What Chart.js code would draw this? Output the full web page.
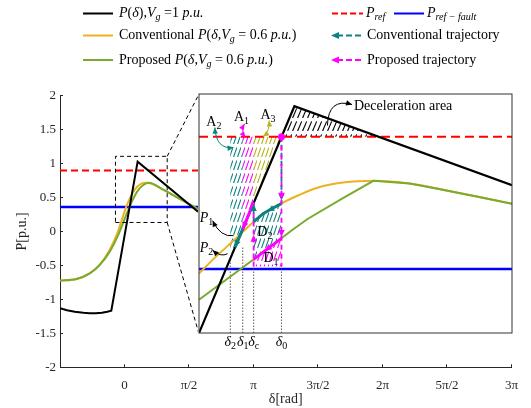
<!DOCTYPE html>
<html><head><meta charset="utf-8">
<title>P-delta curves</title>
<script src="https://cdn.jsdelivr.net/npm/chart.js@4.4.1/dist/chart.umd.min.js"></script>
<style>
html,body{margin:0;padding:0;background:#fff;}
#wrap{position:relative;width:531px;height:408px;overflow:hidden;font-family:"Liberation Serif","Times New Roman",serif;}
#mainC{position:absolute;left:0;top:0;}
#insetC{position:absolute;left:0;top:0;}
#legSvg{position:absolute;left:0;top:0;}
.lg{position:absolute;font-size:14px;line-height:16px;white-space:nowrap;color:#000;}
.lg sub{font-size:10px;vertical-align:-3px;line-height:0;}
</style></head>
<body>
<div id="wrap">
 <canvas id="mainC" width="531" height="408"></canvas>
 <canvas id="insetC" width="10" height="10"></canvas>
 <svg id="legSvg" width="531" height="75" xmlns="http://www.w3.org/2000/svg">
  <line x1="83" y1="13.5" x2="113" y2="13.5" stroke="#000" stroke-width="2"/>
  <line x1="332" y1="13.5" x2="363" y2="13.5" stroke="#f00" stroke-width="2" stroke-dasharray="6,3"/>
  <line x1="394" y1="13.5" x2="424" y2="13.5" stroke="#00f" stroke-width="2"/>
  <line x1="83" y1="35.5" x2="113" y2="35.5" stroke="#EDB120" stroke-width="2"/>
  <line x1="337" y1="35.5" x2="362" y2="35.5" stroke="#0c8282" stroke-width="2" stroke-dasharray="6,3"/>
  <polygon points="331,35.5 339,32 339,39" fill="#0c8282"/>
  <line x1="83" y1="60" x2="113" y2="60" stroke="#77AC30" stroke-width="2"/>
  <line x1="337" y1="60" x2="362" y2="60" stroke="#f0f" stroke-width="2" stroke-dasharray="6,3"/>
  <polygon points="331,60 339,56.5 339,63.5" fill="#f0f"/>
 </svg>
 <div class="lg" style="left:119px;top:5px"><i>P</i>(<i>δ</i>),<i>V</i><sub><i>g</i></sub> =1 <i>p.u.</i></div>
 <div class="lg" style="left:366px;top:5px"><i>P</i><sub><i>ref</i></sub></div>
 <div class="lg" style="left:427px;top:5px"><i>P</i><sub><i>ref − fault</i></sub></div>
 <div class="lg" style="left:119px;top:27px">Conventional <i>P</i>(<i>δ</i>,<i>V</i><sub><i>g</i></sub> = 0.6 <i>p.u.</i>)</div>
 <div class="lg" style="left:367px;top:27px">Conventional trajectory</div>
 <div class="lg" style="left:119px;top:52px">Proposed <i>P</i>(<i>δ</i>,<i>V</i><sub><i>g</i></sub> = 0.6 <i>p.u.</i>)</div>
 <div class="lg" style="left:367px;top:52px">Proposed trajectory</div>
</div>
<script>
// ================= DATA =================
const xTickValues = [-Math.PI/2, 0, Math.PI/2, Math.PI, 3*Math.PI/2, 2*Math.PI, 5*Math.PI/2, 3*Math.PI];
const xTickLabels = ['', '0', 'π/2', 'π', '3π/2', '2π', '5π/2', '3π'];
const yTickValues = [-2, -1.5, -1, -0.5, 0, 0.5, 1, 1.5, 2];
const yTickLabels = ['-2', '-1.5', '-1', '-0.5', '0', '0.5', '1', '1.5', '2'];

// main plot curves (delta in rad, P in p.u.)
const mainBlackX = [-1.571, -1.4, -1.21, -1.0, -0.855, -0.7, -0.55, -0.42, -0.321, 0.32, 1.79];
const mainBlackY = [-1.131, -1.16, -1.183, -1.198, -1.205, -1.203, -1.195, -1.182, -1.166, 1.028, 0.29];
const mainConvX = [-1.571, -1.17, -0.846, -0.604, -0.363, -0.16, 0.04, 0.24, 0.40, 0.556, 0.886, 1.29, 1.79];
const mainConvY = [-0.725, -0.70, -0.616, -0.493, -0.272, 0.0, 0.36, 0.61, 0.70, 0.719, 0.636, 0.50, 0.33];
const mainPropX = [-1.571, -1.17, -0.846, -0.604, -0.363, -0.16, 0.12, 0.30, 0.45, 0.60, 0.886, 1.29, 1.79];
const mainPropY = [-0.725, -0.70, -0.616, -0.493, -0.30, -0.06, 0.36, 0.58, 0.68, 0.719, 0.636, 0.50, 0.33];
const mainRefX = [-Math.PI/2, 1.79];
const pRef = 0.9;
const pRefFault = 0.36;
const zoomBoxX = [-0.22, 1.04];
const zoomBoxY = [0.133, 1.107];
const insetAtX = [1.81, 3*Math.PI];
const insetAtY = [-1.5, 2.02];

// inset (magnified) curves
const insetRangeX = [-0.22, 1.04];
const insetRangeY = [0.098, 1.075];
const insetBlackX = [-0.22, 0.164, 1.04];
const insetBlackY = [0.098, 1.025, 0.702];
const insetConvX = [-0.22, -0.160, -0.081, -0.021, 0.038, 0.110, 0.178, 0.257, 0.360, 0.484, 0.628, 0.761, 0.893, 1.04];
const insetConvY = [0.341, 0.402, 0.476, 0.533, 0.586, 0.627, 0.660, 0.692, 0.713, 0.720, 0.709, 0.684, 0.657, 0.626];
const insetPropX = [-0.22, -0.021, 0.158, 0.217, 0.356, 0.482, 0.628, 0.761, 0.893, 1.04];
const insetPropY = [0.234, 0.383, 0.521, 0.564, 0.647, 0.720, 0.709, 0.684, 0.657, 0.626];
const insetRefX = [-0.22, 1.04];
const deltaKeys = ['2', '1', 'c', '0'];
const deltaX = [-0.094, -0.044, 0.0, 0.112];
const deltaDotTop = [0.40, 0.45, 0.37, 0.37];

// hatched areas
const areaA2X = [-0.094, -0.044, -0.044, -0.094], areaA2Y = [0.9, 0.9, 0.523, 0.402];
const areaA1X = [-0.044, 0, 0, -0.044],           areaA1Y = [0.9, 0.9, 0.632, 0.523];
const areaA3X = [0, 0.112, 0],                    areaA3Y = [0.9, 0.9, 0.632];
const areaD2X = [0, 0.038, 0.08, 0.112, 0.112, 0], areaD2Y = [0.552, 0.586, 0.61, 0.627, 0.485, 0.399];
const areaD1X = [0, 0.112, 0.112, 0],             areaD1Y = [0.399, 0.485, 0.37, 0.37];
const areaDecX = [0.112, 0.164, 0.503],           areaDecY = [0.9, 1.025, 0.9];

// trajectories
const convDropX = [0.112, 0.112],  convDropY = [0.9, 0.627];
const convSlideX = [0.112, 0.08, 0.038, 0], convSlideY = [0.627, 0.61, 0.586, 0.552];
const convJumpX = [0, 0],          convJumpY = [0.552, 0.632];
const convSwingX = [-0.03, -0.075], convSwingY = [0.557, 0.448];
const propDropX = [0.112, 0.112],  propDropY = [0.9, 0.37];
const propSlideX = [0.112, 0],     propSlideY = [0.485, 0.399];
const propJumpX = [0, 0],          propJumpY = [0.37, 0.632];
const propSwingX = [0, -0.044],    propSwingY = [0.632, 0.523];
const convArrows = [[0.112, 0.70, 0.112, 0.64], [0.085, 0.612, 0.055, 0.596], [0, 0.57, 0, 0.625], [-0.055, 0.50, -0.075, 0.448]];
const propArrows = [[0.112, 0.70, 0.112, 0.643], [0.112, 0.55, 0.112, 0.49], [0.07, 0.453, 0.045, 0.434], [0, 0.43, 0, 0.50], [-0.02, 0.584, -0.044, 0.523]];
const operatingPoint = [0.112, 0.9];

// annotation labels (inset units)
const areaLabels = [['A', '2', -0.160, 0.964], ['A', '1', -0.049, 0.984], ['A', '3', 0.058, 0.991], ['D', '2', 0.045, 0.514], ['D', '1', 0.070, 0.406]];
const pointLabels = [['P', '1', -0.190, 0.57], ['P', '2', -0.190, 0.447]];
const decelText = ['Deceleration area', 0.404, 1.024];

// ================= STYLE =================
const GREEN = '#77AC30', ORANGE = '#EDB120', TEAL = '#0c8282', MAGENTA = '#ff00ff', OLIVE = '#b5b51c', AXIS = '#262626';
const pointers = [
  [-0.156, 0.938, -0.152, 0.848, -0.081, 0.856, TEAL, true],
  [-0.037, 0.953, -0.053, 0.924, -0.033, 0.897, MAGENTA, true],
  [0.062, 0.967, 0.066, 0.922, 0.038, 0.901, OLIVE, true],
  [0.297, 0.946, 0.30, 1.06, 0.396, 1.032, '#000', false],
  [-0.081, 0.496, -0.133, 0.488, -0.165, 0.557, '#000', false],
  [-0.105, 0.422, -0.133, 0.407, -0.165, 0.436, '#000', false]
];

Chart.defaults.font.family = "'Liberation Serif','Times New Roman',serif";
Chart.defaults.color = AXIS;

const pts = (xs, ys) => xs.map((x, i) => ({x: x, y: ys[i]}));
const hl = (xs, y) => xs.map(x => ({x: x, y: y}));

function hatch(color, w, h) {
  const c = document.createElement('canvas'); c.width = w; c.height = h;
  const g = c.getContext('2d'); g.strokeStyle = color; g.lineWidth = 1.1;
  g.beginPath(); g.moveTo(0.6, h); g.lineTo(0.6 + w * 0.74, h * 0.26); g.stroke();
  return g.createPattern(c, 'repeat');
}

// ================= MAIN CHART =================
const lineDs = (data, color, width, extra) => Object.assign({data: data, borderColor: color, borderWidth: width, pointRadius: 0, fill: false}, extra || {});

const mainChart = new Chart(document.getElementById('mainC'), {
  type: 'line',
  data: {datasets: [
    lineDs([{x: zoomBoxX[0], y: zoomBoxY[0]}, {x: zoomBoxX[1], y: zoomBoxY[0]}, {x: zoomBoxX[1], y: zoomBoxY[1]}, {x: zoomBoxX[0], y: zoomBoxY[1]}, {x: zoomBoxX[0], y: zoomBoxY[0]}], '#000', 1, {borderDash: [4, 3], order: 0}),
    lineDs([{x: zoomBoxX[1], y: zoomBoxY[1]}, {x: insetAtX[0], y: insetAtY[1]}], '#000', 1, {borderDash: [4, 3], clip: false, order: 0}),
    lineDs([{x: zoomBoxX[1], y: zoomBoxY[0]}, {x: insetAtX[0], y: insetAtY[0]}], '#000', 1, {borderDash: [4, 3], clip: false, order: 0}),
    lineDs(pts(mainBlackX, mainBlackY), '#000', 2, {order: 1}),
    lineDs(pts(mainPropX, mainPropY), GREEN, 2, {order: 2, cubicInterpolationMode: 'monotone'}),
    lineDs(pts(mainConvX, mainConvY), ORANGE, 2, {order: 3, cubicInterpolationMode: 'monotone'}),
    lineDs(hl(mainRefX, pRef), '#ff0000', 2, {borderDash: [7, 4], order: 4}),
    lineDs(hl(mainRefX, pRefFault), '#0000ff', 2.5, {order: 5})
  ]},
  options: {
    responsive: false, animation: false, events: [],
    layout: {padding: {top: 95.7, right: 13, left: 0, bottom: 0}},
    elements: {point: {radius: 0}, line: {tension: 0}},
    plugins: {legend: {display: false}, tooltip: {enabled: false}},
    scales: {
      x: {type: 'linear', min: -Math.PI/2, max: 3*Math.PI,
        afterBuildTicks: s => { s.ticks = xTickValues.map(v => ({value: v})); },
        ticks: {autoSkip: false, maxRotation: 0, padding: 13, font: {size: 13}, color: AXIS, callback: (v, i) => xTickLabels[i]},
        grid: {drawOnChartArea: false, drawTicks: true, tickLength: -3, color: AXIS, lineWidth: 1},
        border: {display: true, color: AXIS, width: 1},
        title: {display: true, text: 'δ[rad]', font: {size: 14}, color: AXIS, padding: {top: 0, bottom: 0}},
        afterFit: s => { s.height = 408 - 367.3; }
      },
      y: {type: 'linear', min: -2, max: 2,
        afterBuildTicks: s => { s.ticks = yTickValues.map(v => ({value: v})); },
        ticks: {padding: 7, font: {size: 13}, color: AXIS, callback: (v, i) => yTickLabels[i]},
        grid: {drawOnChartArea: false, drawTicks: true, tickLength: -3, color: AXIS, lineWidth: 1},
        border: {display: true, color: AXIS, width: 1},
        title: {display: true, text: 'P[p.u.]', font: {size: 14}, color: AXIS, padding: {top: 14, bottom: 14}},
        afterFit: s => { s.width = 60; }
      }
    }
  }
});

// ================= INSET CHART =================
const mx = mainChart.scales.x, my = mainChart.scales.y;
const L = mx.getPixelForValue(insetAtX[0]), R = mx.getPixelForValue(insetAtX[1]);
const T = my.getPixelForValue(insetAtY[1]), B = my.getPixelForValue(insetAtY[0]);
const PAD = 2, EXTRA = 24;
const ic = document.getElementById('insetC');
ic.width = Math.round(R - L + 2 * PAD);
ic.height = Math.round(B - T + PAD + EXTRA);
ic.style.left = (L - PAD) + 'px';
ic.style.top = (T - PAD) + 'px';

function subText(ctx, main, sub, cx, cy, size, italMain, color) {
  const f1 = (italMain ? 'italic ' : '') + size + "px 'Liberation Serif'";
  const f2 = Math.round(size * 0.7) + "px 'Liberation Serif'";
  ctx.font = f1; const w1 = ctx.measureText(main).width;
  ctx.font = f2; const w2 = ctx.measureText(sub).width;
  const x0 = cx - (w1 + w2) / 2, base = cy + size * 0.33;
  ctx.fillStyle = color || '#000'; ctx.textAlign = 'left'; ctx.textBaseline = 'alphabetic';
  ctx.font = f1; ctx.fillText(main, x0, base);
  ctx.font = f2; ctx.fillText(sub, x0 + w1, base + size * 0.22);
}
function head(ctx, x0, y0, x1, y1, color, size) {
  const a = Math.atan2(y1 - y0, x1 - x0), s = size || 7;
  ctx.save(); ctx.fillStyle = color; ctx.beginPath();
  ctx.moveTo(x1, y1);
  ctx.lineTo(x1 - s * Math.cos(a) + s * 0.45 * Math.sin(a), y1 - s * Math.sin(a) - s * 0.45 * Math.cos(a));
  ctx.lineTo(x1 - s * Math.cos(a) - s * 0.45 * Math.sin(a), y1 - s * Math.sin(a) + s * 0.45 * Math.cos(a));
  ctx.closePath(); ctx.fill(); ctx.restore();
}

const insetDeco = {
  id: 'insetDeco',
  beforeDraw(chart) {
    const {ctx, chartArea: a} = chart;
    ctx.save(); ctx.fillStyle = '#fff';
    ctx.fillRect(a.left - 1, a.top - 1, a.right - a.left + 2, a.bottom - a.top + 2);
    ctx.restore();
  },
  afterDatasetsDraw(chart) {
    const {ctx} = chart; const X = v => chart.scales.x.getPixelForValue(v), Y = v => chart.scales.y.getPixelForValue(v);
    convArrows.forEach(a => head(ctx, X(a[0]), Y(a[1]), X(a[2]), Y(a[3]), TEAL, 7));
    propArrows.forEach(a => head(ctx, X(a[0]), Y(a[1]), X(a[2]), Y(a[3]), MAGENTA, 7));
    ctx.save(); ctx.fillStyle = MAGENTA; ctx.beginPath();
    ctx.arc(X(operatingPoint[0]), Y(operatingPoint[1]), 3.5, 0, 2 * Math.PI); ctx.fill(); ctx.restore();
    pointers.forEach(p => {
      const x0 = X(p[0]), y0 = Y(p[1]), cx = X(p[2]), cy = Y(p[3]), x1 = X(p[4]), y1 = Y(p[5]);
      ctx.save(); ctx.strokeStyle = p[6]; ctx.lineWidth = 1; ctx.beginPath();
      ctx.moveTo(x0, y0); ctx.quadraticCurveTo(cx, cy, x1, y1); ctx.stroke(); ctx.restore();
      head(ctx, cx, cy, x1, y1, p[6], 6);
      if (p[7]) head(ctx, cx, cy, x0, y0, p[6], 6);
    });
    areaLabels.forEach(l => subText(ctx, l[0], l[1], X(l[2]), Y(l[3]), 14, false, '#000'));
    pointLabels.forEach(l => subText(ctx, l[0], l[1], X(l[2]), Y(l[3]), 14, true, '#000'));
    ctx.save(); ctx.fillStyle = '#000'; ctx.font = "14px 'Liberation Serif'"; ctx.textAlign = 'left'; ctx.textBaseline = 'middle';
    ctx.fillText(decelText[0], X(decelText[1]), Y(decelText[2])); ctx.restore();
  },
  afterDraw(chart) {
    const {ctx, chartArea: a} = chart; const X = v => chart.scales.x.getPixelForValue(v);
    ctx.save(); ctx.strokeStyle = '#333'; ctx.lineWidth = 1;
    ctx.strokeRect(a.left, a.top, a.right - a.left, a.bottom - a.top); ctx.restore();
    deltaKeys.forEach((k, i) => subText(ctx, 'δ', k, X(deltaX[i]), a.bottom + 8, 14, true, '#000'));
  }
};

const insetDatasets = [
  // hatched areas
  {data: pts(areaA2X, areaA2Y), fill: 'shape', backgroundColor: hatch(TEAL, 4.5, 13), borderWidth: 0, borderColor: 'rgba(0,0,0,0)', order: 30},
  {data: pts(areaA1X, areaA1Y), fill: 'shape', backgroundColor: hatch(MAGENTA, 4.5, 13), borderWidth: 0, borderColor: 'rgba(0,0,0,0)', order: 30},
  {data: pts(areaA3X, areaA3Y), fill: 'shape', backgroundColor: hatch(OLIVE, 4.5, 13), borderWidth: 0, borderColor: 'rgba(0,0,0,0)', order: 30},
  {data: pts(areaD2X, areaD2Y), fill: 'shape', backgroundColor: hatch(TEAL, 4.5, 13), borderWidth: 0, borderColor: 'rgba(0,0,0,0)', order: 30},
  {data: pts(areaD1X, areaD1Y), fill: 'shape', backgroundColor: hatch(MAGENTA, 4.5, 13), borderWidth: 0, borderColor: 'rgba(0,0,0,0)', order: 30},
  {data: pts(areaDecX, areaDecY), fill: 'shape', backgroundColor: hatch('#000', 5.5, 13), borderWidth: 0, borderColor: 'rgba(0,0,0,0)', order: 30},
  // reference lines
  lineDs(hl(insetRefX, pRefFault), '#0000ff', 2.5, {order: 20}),
  lineDs(hl(insetRefX, pRef), '#ff0000', 2, {borderDash: [9, 5], order: 19}),
  // dotted delta markers
  ...deltaX.map((d, i) => lineDs([{x: d, y: insetRangeY[0]}, {x: d, y: deltaDotTop[i]}], '#333', 0.8, {borderDash: [1.5, 1.5], order: 18})),
  // curves
  lineDs(pts(insetConvX, insetConvY), ORANGE, 2, {cubicInterpolationMode: 'monotone', order: 12}),
  lineDs(pts(insetPropX, insetPropY), GREEN, 2, {order: 11}),
  lineDs(pts(insetBlackX, insetBlackY), '#000', 2.2, {order: 10}),
  // trajectories
  lineDs(pts(convDropX, convDropY), TEAL, 1.8, {borderDash: [5, 3], order: 5}),
  lineDs(pts(convSlideX, convSlideY), TEAL, 3, {order: 5}),
  lineDs(pts(convJumpX, convJumpY), TEAL, 1.8, {borderDash: [5, 3], order: 5}),
  lineDs(pts(convSwingX, convSwingY), TEAL, 3, {order: 5}),
  lineDs(pts(propDropX, propDropY), MAGENTA, 1.8, {borderDash: [5, 4], order: 4}),
  lineDs(pts(propSlideX, propSlideY), MAGENTA, 3, {order: 4}),
  lineDs(pts(propJumpX, propJumpY), MAGENTA, 1.8, {borderDash: [5, 3], order: 4}),
  lineDs(pts(propSwingX, propSwingY), MAGENTA, 3, {order: 4})
];

const insetChart = new Chart(ic, {
  type: 'line',
  data: {datasets: insetDatasets},
  options: {
    responsive: false, animation: false, events: [],
    layout: {padding: {left: PAD, right: PAD, top: PAD, bottom: EXTRA}},
    elements: {point: {radius: 0}, line: {tension: 0}},
    plugins: {legend: {display: false}, tooltip: {enabled: false}},
    scales: {
      x: {type: 'linear', display: false, min: insetRangeX[0], max: insetRangeX[1]},
      y: {type: 'linear', display: false, min: insetRangeY[0], max: insetRangeY[1]}
    }
  },
  plugins: [insetDeco]
});
</script>
</body></html>
